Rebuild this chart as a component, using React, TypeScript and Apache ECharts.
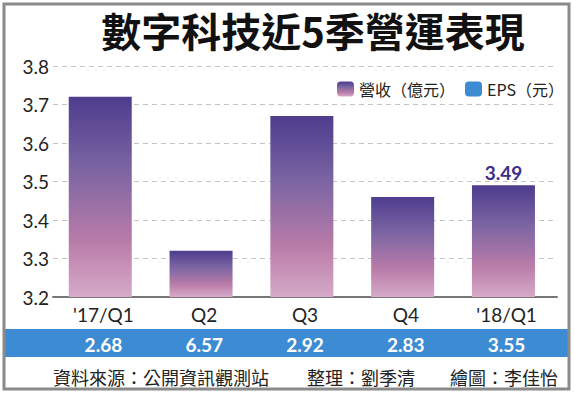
import React, { useEffect, useRef } from "react";
import * as echarts from "echarts";

const categories = ["'17/Q1", "Q2", "Q3", "Q4", "'18/Q1"];
const revenue = [3.72, 3.32, 3.67, 3.46, 3.49];
const eps = ["2.68", "6.57", "2.92", "2.83", "3.55"];
const yTicks = { min: 3.2, max: 3.8, interval: 0.1 };
const title = "數字科技近5季營運表現";
const revenueName = "營收（億元）";
const epsName = "EPS（元）";
const footer = ["資料來源：公開資訊觀測站", "整理：劉季清", "繪圖：李佳怡"];

const CJK = "'Noto Sans CJK TC', 'Noto Sans', sans-serif";
const NUM = "Lato, 'Noto Sans CJK TC', sans-serif";

export default function App() {
  const ref = useRef<HTMLDivElement>(null);
  useEffect(() => {
    if (!ref.current) return;
    const chart = echarts.init(ref.current, null, { renderer: "svg" });
    const grad = new echarts.graphic.LinearGradient(0, 0, 0, 1, [
      { offset: 0, color: "#4e3c8e" },
      { offset: 0.35, color: "#7a64a2" },
      { offset: 0.72, color: "#b97ca9" },
      { offset: 1, color: "#d6aac8" },
    ]);
    const last = revenue.length - 1;
    chart.setOption({
      animation: false,
      backgroundColor: "#ffffff",
      title: {
        text: title,
        left: 308,
        top: 5,
        textAlign: "center",
        textStyle: { fontFamily: CJK, fontSize: 40, fontWeight: "bold", color: "#111" },
      },
      legend: {
        left: 332,
        top: 76,
        itemWidth: 17,
        itemHeight: 15,
        itemGap: 10,
        textStyle: { fontFamily: CJK, fontSize: 16, color: "#222" },
        data: [revenueName, epsName],
      },
      grid: { left: 53, right: 18, top: 66, bottom: 100 },
      xAxis: [
        {
          type: "category",
          data: categories,
          axisLine: { lineStyle: { color: "#777", width: 2 } },
          axisTick: { show: false },
          axisLabel: { fontFamily: NUM, fontSize: 19, color: "#222", margin: 8 },
        },
        {
          type: "category",
          data: eps,
          position: "bottom",
          offset: 38,
          axisLine: { show: false },
          axisTick: { show: false },
          axisLabel: { fontFamily: NUM, fontSize: 19, fontWeight: "bold", color: "#ffffff", margin: 0 },
        },
      ],
      yAxis: {
        type: "value",
        min: yTicks.min,
        max: yTicks.max,
        interval: yTicks.interval,
        axisLine: { show: false },
        axisTick: { show: false },
        axisLabel: {
          fontFamily: NUM,
          fontSize: 19,
          color: "#222",
          margin: 4,
          formatter: (v: number) => v.toFixed(1),
        },
        splitLine: { lineStyle: { color: "#c4c4c4", type: [5, 4], width: 1 } },
      },
      series: [
        {
          name: revenueName,
          type: "bar",
          barWidth: 63,
          itemStyle: { color: grad },
          label: {
            show: false,
            position: "top",
            distance: 3,
            fontFamily: NUM,
            fontSize: 19,
            fontWeight: "bold",
            color: "#3f2d86",
            formatter: (p: any) => p.value.toFixed(2),
          },
          data: revenue.map((v, i) => (i === last ? { value: v, label: { show: true } } : v)),
        },
        {
          name: epsName,
          type: "bar",
          itemStyle: { color: "#3d8bd3" },
          data: [],
        },
      ],
      graphic: [
        {
          type: "rect",
          z: -1,
          shape: { x: 4, y: 329, width: 565, height: 28 },
          style: { fill: "#3d8bd3" },
        },
        {
          type: "rect",
          z: 100,
          shape: { x: 4, y: 4, width: 565, height: 385 },
          style: { fill: "none", stroke: "#8a8a8a", lineWidth: 3 },
        },
        {
          type: "text",
          x: 53,
          y: 377,
          style: { text: footer[0], fontFamily: CJK, fontSize: 18, fill: "#222", verticalAlign: "middle" },
        },
        {
          type: "text",
          x: 307,
          y: 377,
          style: { text: footer[1], fontFamily: CJK, fontSize: 18, fill: "#222", verticalAlign: "middle" },
        },
        {
          type: "text",
          x: 450,
          y: 377,
          style: { text: footer[2], fontFamily: CJK, fontSize: 18, fill: "#222", verticalAlign: "middle" },
        },
      ],
    });
    return () => chart.dispose();
  }, []);
  return (
    <div
      ref={ref}
      style={{ position: "fixed", left: 0, top: 0, width: 575, height: 397, background: "#fff" }}
    />
  );
}
